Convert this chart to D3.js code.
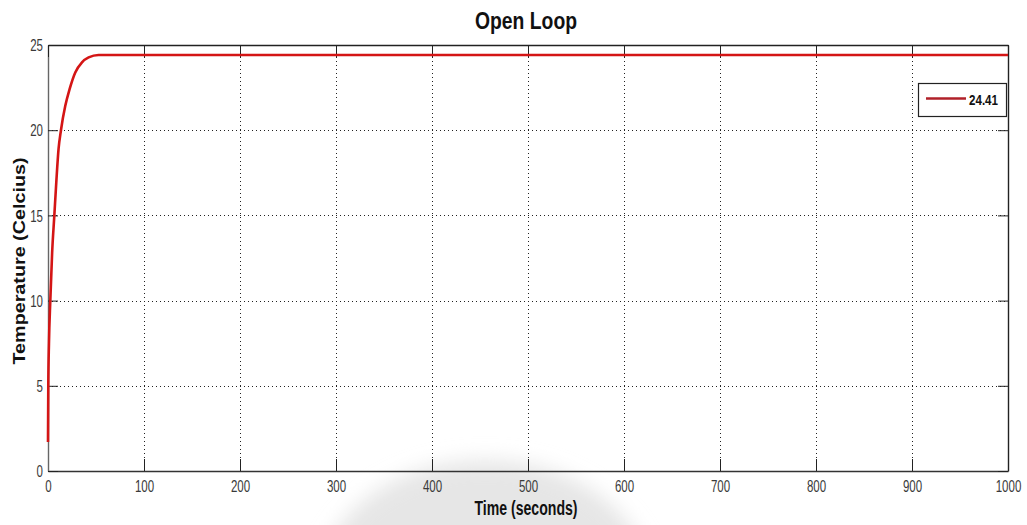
<!DOCTYPE html>
<html>
<head>
<meta charset="utf-8">
<script src="https://cdn.jsdelivr.net/npm/d3@7"></script>
<style>
  html, body { margin: 0; padding: 0; background: #fff; }
  svg { display: block; }
</style>
</head>
<body>
<svg id="chart" width="1027" height="525"></svg>
<script>
// Open-loop temperature response (time in s, temperature in °C)
const timeSec = [0, 0.3, 1, 2.4, 4.3, 6.6, 8.8, 11, 13.5, 18, 22.5, 28.4, 35.4, 42.3, 52.7, 60, 100, 200, 400, 600, 800, 1000];
const temperature = [1.7, 5, 7.5, 10, 12.8, 15, 17.1, 18.9, 20, 21.43, 22.41, 23.39, 23.98, 24.27, 24.41, 24.41, 24.41, 24.41, 24.41, 24.41, 24.41, 24.41];
const seriesName = "24.41";
const xTicks = [0, 100, 200, 300, 400, 500, 600, 700, 800, 900, 1000];
const yTicks = [0, 5, 10, 15, 20, 25];

const font = "'Liberation Sans', Arial, sans-serif";

const svg = d3.select("#chart");
const m = { left: 48, right: 1008, top: 45, bottom: 471 };

const x = d3.scaleLinear().domain([0, 1000]).range([m.left, m.right]);
const y = d3.scaleLinear().domain([0, 25]).range([m.bottom, m.top]);

// horizontally condense a text element around its own anchor point
function condense(sel, sx) {
  sel.each(function () {
    const t = d3.select(this);
    const ax = +t.attr("x") || 0;
    t.attr("transform", `translate(${ax * (1 - sx)},0) scale(${sx},1)`);
  });
}

// faint grey stamp behind the lower axis area
const defs = svg.append("defs");
defs.append("filter").attr("id", "soft").attr("x", "-30%").attr("y", "-30%").attr("width", "160%").attr("height", "160%")
  .append("feGaussianBlur").attr("stdDeviation", 10);
svg.append("ellipse")
  .attr("cx", 485).attr("cy", 592).attr("rx", 168).attr("ry", 132)
  .attr("fill", "#e6e6e6").attr("filter", "url(#soft)");

// grid
const grid = svg.append("g").attr("stroke", "#222").attr("stroke-width", 1).attr("stroke-dasharray", "1,3");
grid.selectAll("line.gx").data(xTicks.slice(1, -1)).join("line")
  .attr("x1", d => Math.round(x(d)) + 0.5).attr("x2", d => Math.round(x(d)) + 0.5)
  .attr("y1", m.top).attr("y2", m.bottom);
grid.selectAll("line.gy").data(yTicks.slice(1, -1)).join("line")
  .attr("y1", d => Math.round(y(d)) + 0.5).attr("y2", d => Math.round(y(d)) + 0.5)
  .attr("x1", m.left).attr("x2", m.right);

// axes
const xTickLen = 12, yTickLen = 10;
const fmt = d3.format("d");
const xAxis = d3.axisBottom(x).tickValues(xTicks).tickFormat(fmt).tickSizeInner(-xTickLen).tickSizeOuter(0);
const yAxis = d3.axisLeft(y).tickValues(yTicks).tickFormat(fmt).tickSizeInner(-yTickLen).tickSizeOuter(0);

const gx = svg.append("g").attr("transform", `translate(0,${m.bottom})`).call(xAxis);
const gy = svg.append("g").attr("transform", `translate(${m.left},0)`).call(yAxis);
gx.select(".domain").attr("stroke", "#333").attr("stroke-width", 1.4);
gy.select(".domain").attr("stroke", "#666").attr("stroke-width", 1.4);
[gx, gy].forEach(g => {
  g.selectAll(".tick line").attr("stroke", "#222");
  g.selectAll(".tick text").attr("fill", "#3a3a3a")
    .style("font-family", font).style("font-size", "16px");
});
gx.selectAll(".tick text").attr("y", 21).attr("dy", null);
gy.selectAll(".tick text").attr("x", -5).attr("dy", "0.36em");
condense(gx.selectAll(".tick text"), 0.72);
condense(gy.selectAll(".tick text"), 0.72);

// mirrored ticks on top and right
const gxTop = svg.append("g").attr("transform", `translate(0,${m.top})`)
  .call(d3.axisTop(x).tickValues(xTicks).tickSizeInner(-xTickLen).tickSizeOuter(0).tickFormat(""));
const gyRight = svg.append("g").attr("transform", `translate(${m.right},0)`)
  .call(d3.axisRight(y).tickValues(yTicks).tickSizeInner(-yTickLen).tickSizeOuter(0).tickFormat(""));
[gxTop, gyRight].forEach(g => {
  g.select(".domain").attr("stroke", "#222").attr("stroke-width", 1.4);
  g.selectAll(".tick line").attr("stroke", "#222");
});

// response curve
const line = d3.line().x((d, i) => x(timeSec[i])).y(d => y(d)).curve(d3.curveMonotoneX);
svg.append("path")
  .datum(temperature)
  .attr("fill", "none")
  .attr("stroke", "#d41515")
  .attr("stroke-width", 2.6)
  .attr("stroke-linejoin", "round")
  .attr("d", line);

// legend
const lg = svg.append("g");
lg.append("rect").attr("x", 918.5).attr("y", 83.5).attr("width", 88).attr("height", 33)
  .attr("fill", "#fff").attr("stroke", "#222").attr("stroke-width", 1.2);
lg.append("line").attr("x1", 926).attr("x2", 966).attr("y1", 98.5).attr("y2", 98.5)
  .attr("stroke", "#b02029").attr("stroke-width", 2.6);
lg.append("text").attr("x", 969).attr("y", 104.5).text(seriesName)
  .attr("textLength", 29).attr("lengthAdjust", "spacingAndGlyphs")
  .attr("fill", "#111").style("font-family", font).style("font-size", "15px").style("font-weight", "bold");

// titles
svg.append("text").attr("x", 526).attr("y", 29).attr("text-anchor", "middle")
  .text("Open Loop").attr("fill", "#111")
  .attr("textLength", 102).attr("lengthAdjust", "spacingAndGlyphs")
  .style("font-family", font).style("font-size", "24px").style("font-weight", "bold");
svg.append("text").attr("x", 526).attr("y", 515).attr("text-anchor", "middle")
  .text("Time (seconds)").attr("fill", "#111")
  .attr("textLength", 103).attr("lengthAdjust", "spacingAndGlyphs")
  .style("font-family", font).style("font-size", "20px").style("font-weight", "bold");
svg.append("text").attr("transform", "translate(25,261) rotate(-90)")
  .attr("text-anchor", "middle")
  .text("Temperature (Celcius)").attr("fill", "#111")
  .attr("textLength", 207).attr("lengthAdjust", "spacingAndGlyphs")
  .style("font-family", font).style("font-size", "17px").style("font-weight", "bold");
</script>
</body>
</html>
